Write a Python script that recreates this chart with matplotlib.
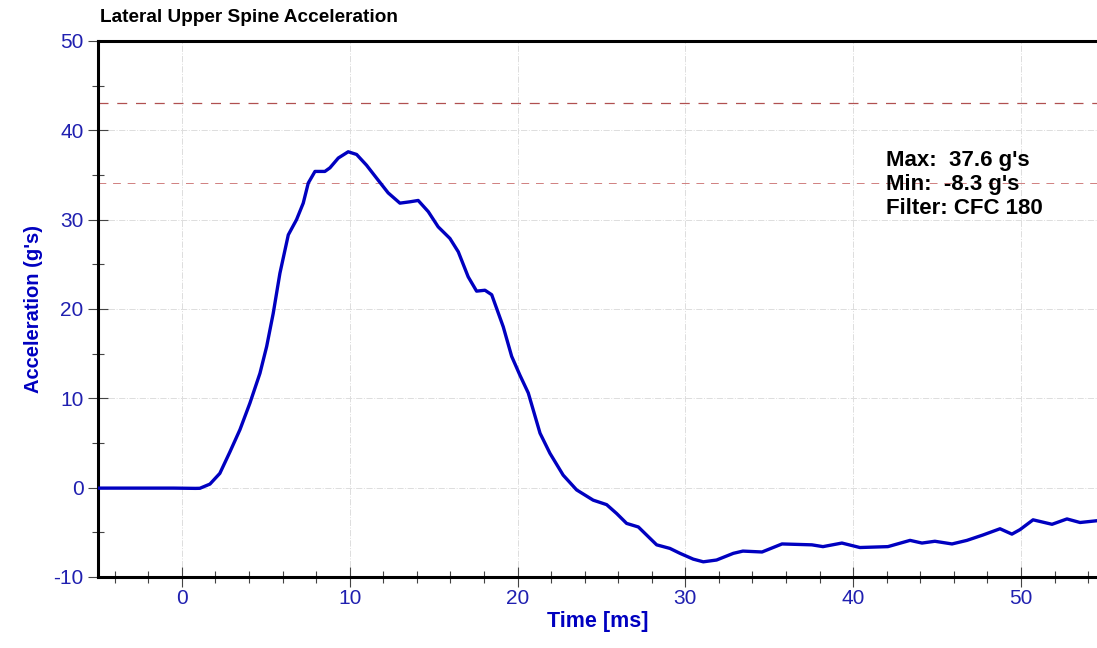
import matplotlib.pyplot as plt
from matplotlib.ticker import MultipleLocator

plt.rcParams['font.family'] = ['Liberation Sans', 'DejaVu Sans']
plt.rcParams['axes.unicode_minus'] = False

# data
time_ms = [-5.0, -2.0, -0.5, 0.8, 1.07, 1.67, 2.26, 2.86, 3.46, 4.05, 4.65,
           5.05, 5.44, 5.84, 6.34, 6.83, 7.23, 7.53, 7.93, 8.52, 8.82, 9.32,
           9.91, 10.41, 11.0, 11.6, 12.29, 12.99, 13.59, 14.08, 14.68, 15.27,
           15.97, 16.47, 17.06, 17.56, 18.06, 18.46, 19.15, 19.65, 20.14,
           20.64, 21.34, 21.93, 22.72, 23.52, 24.51, 25.31, 25.91, 26.5, 27.2,
           27.69, 28.29, 29.08, 29.68, 30.47, 31.07, 31.86, 32.86, 33.43,
           34.57, 35.76, 37.54, 38.2, 39.33, 40.4, 42.07, 43.39, 44.1, 44.87,
           45.89, 46.78, 47.73, 48.75, 49.46, 49.94, 50.72, 51.85, 52.74,
           53.52, 54.53]
accel_g = [-0.05, -0.05, -0.05, -0.08, -0.07, 0.4, 1.6, 4.0, 6.5, 9.45, 12.8,
           15.8, 19.5, 24.0, 28.3, 30.0, 31.85, 34.1, 35.4, 35.4, 35.8, 36.9,
           37.6, 37.3, 36.1, 34.65, 33.0, 31.85, 32.0, 32.15, 30.9, 29.2, 27.9,
           26.4, 23.6, 22.0, 22.1, 21.6, 18.0, 14.7, 12.6, 10.6, 6.1, 3.85,
           1.4, -0.25, -1.4, -1.9, -2.9, -4.0, -4.4, -5.3, -6.4, -6.8, -7.35,
           -8.0, -8.3, -8.1, -7.35, -7.1, -7.2, -6.3, -6.4, -6.6, -6.2, -6.7,
           -6.6, -5.9, -6.2, -6.0, -6.3, -5.9, -5.3, -4.6, -5.2, -4.7, -3.6,
           -4.1, -3.5, -3.9, -3.7]
limit_lines = [43.1, 34.1]
stats_text = "Max:  37.6 g's\nMin:  -8.3 g's\nFilter: CFC 180"

blue = '#0000c0'
label_blue = '#2020b0'

fig = plt.figure(figsize=(10.97, 6.48), dpi=100)
ax = fig.add_axes([98 / 1097, 71 / 648, 1 - 98 / 1097, 536 / 648])

ax.plot(time_ms, accel_g, color=blue, linewidth=2.4, zorder=3,
        solid_joinstyle='round', solid_capstyle='round')

# upper limit lines
ax.axhline(limit_lines[0], color='#b05050', linestyle=(0, (8, 7)), linewidth=0.9)
ax.axhline(limit_lines[1], color='#d08080', linestyle=(0, (8, 7)), linewidth=0.7)

ax.set_xlim(-5, 54.53)
ax.set_ylim(-10, 50)
ax.xaxis.set_major_locator(MultipleLocator(10))
ax.xaxis.set_minor_locator(MultipleLocator(2))
ax.yaxis.set_major_locator(MultipleLocator(10))
ax.yaxis.set_minor_locator(MultipleLocator(5))
ax.grid(True, which='major', color='#dddddd', linestyle='-.', linewidth=0.7)

ax.tick_params(axis='both', which='major', direction='inout', length=14,
               width=0.8, color='#444444', labelsize=15, labelcolor=label_blue)
ax.tick_params(axis='both', which='minor', direction='inout', length=9,
               width=0.8, color='#444444')
ax.tick_params(axis='x', which='major', pad=2)

for side in ['left', 'bottom', 'top']:
    ax.spines[side].set_linewidth(2.2)
ax.spines['right'].set_visible(False)

ax.set_xlabel('Time [ms]', fontsize=15.5, fontweight='bold', color=blue, labelpad=2)
ax.set_ylabel("Acceleration (g's)", fontsize=14.5, fontweight='bold', color=blue,
              labelpad=7)
fig.text(100 / 1097, 1 - 17 / 648, 'Lateral Upper Spine Acceleration',
         fontsize=13.7, fontweight='bold', va='center', ha='left')

ax.text(0.789, 0.797, stats_text, transform=ax.transAxes, fontsize=16,
        fontweight='bold', va='top', ha='left', linespacing=1.2)

fig.savefig('out.png', dpi=100)
